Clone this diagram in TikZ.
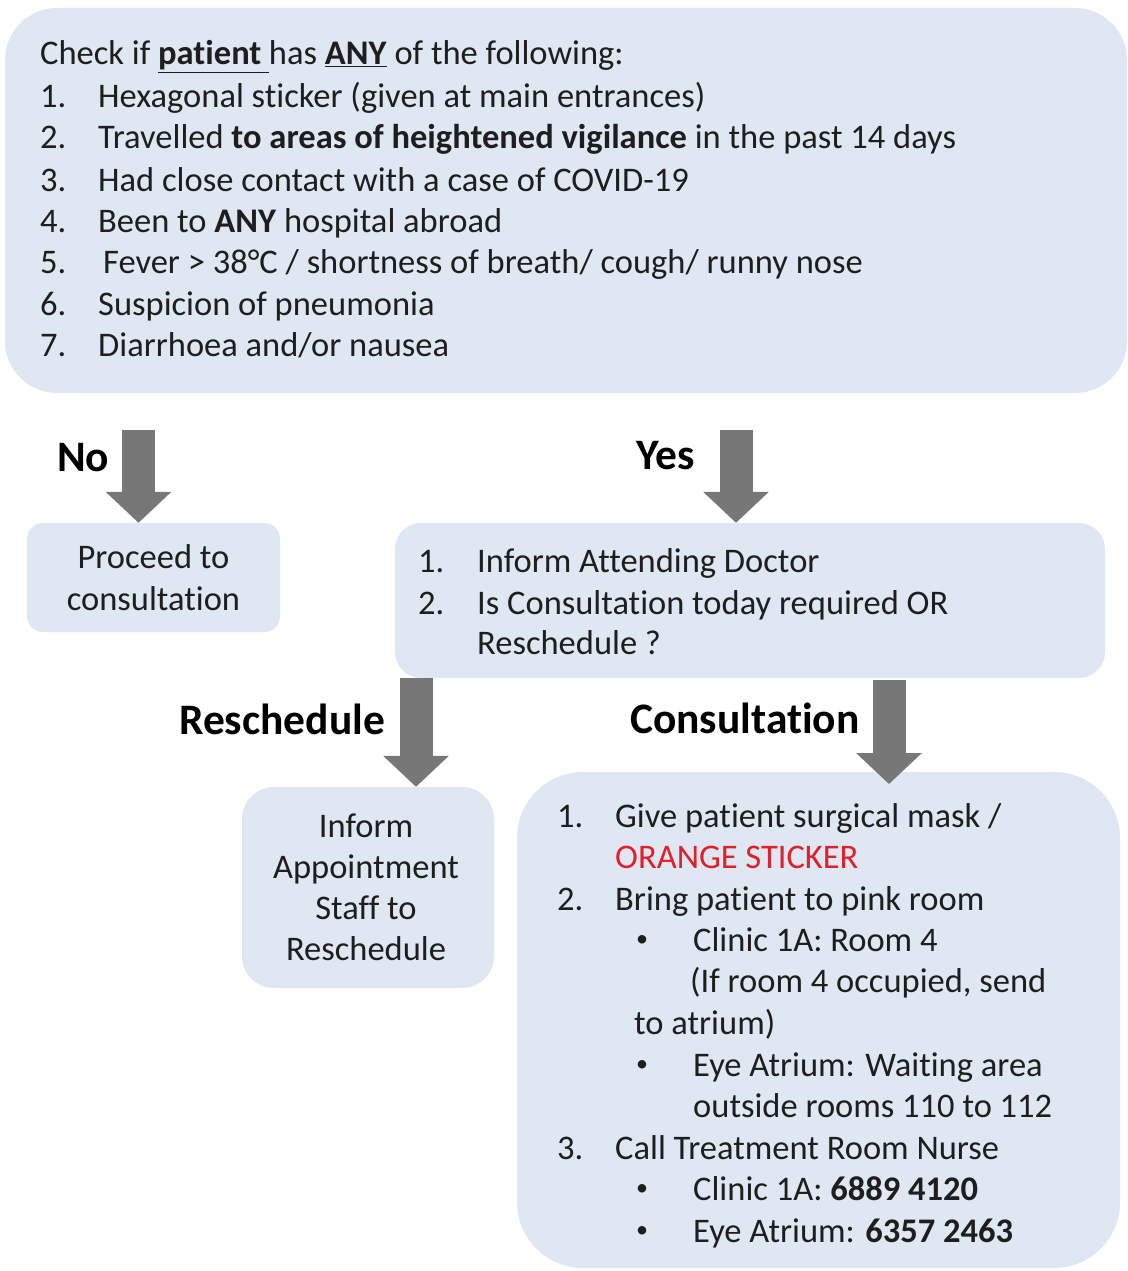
\documentclass[tikz,border=0pt]{standalone}
\usepackage{fontspec}
\setmainfont[Ligatures={NoCommon,NoRare}]{Carlito}
\usetikzlibrary{arrows.meta}
\definecolor{boxfill}{HTML}{DEE7F2}
\definecolor{arrowgray}{HTML}{777777}
\definecolor{ink}{HTML}{1E1E1E}
\definecolor{alertred}{HTML}{E0202A}
\newcommand{\smallbullet}{\raisebox{0.12em}{\fontsize{24}{24}\selectfont •}}
\begin{document}
\begin{tikzpicture}[x=1pt,y=-1pt,
  box/.style={fill=boxfill, draw=none, inner sep=0pt},
  txt/.style={inner sep=0pt, anchor=base west, text=ink, font=\fontsize{34.5}{41}\selectfont},
  ctxt/.style={txt, anchor=base},
  lbl/.style={inner sep=0pt, anchor=base west, text=black, font=\fontsize{43.5}{50}\selectfont\bfseries},
  bigarrow/.style={draw=arrowgray, fill=arrowgray, line width=33pt, -{Triangle[width=64pt,length=31pt]}}]
\useasboundingbox (0,0) rectangle (1127,1271);
\fill[white] (0,0) rectangle (1127,1271);

% boxes
\node[box, rounded corners=52pt, minimum width=1122pt, minimum height=385pt] (top) at (566,200.5) {};
\node[box, rounded corners=16pt, minimum width=253pt, minimum height=109pt] (proceed) at (153.5,577.5) {};
\node[box, rounded corners=26pt, minimum width=710pt, minimum height=155pt] (mid) at (750,600.5) {};
\node[box, rounded corners=32pt, minimum width=252pt, minimum height=201pt] (inform) at (368,887.5) {};
\node[box, rounded corners=66pt, minimum width=603pt, minimum height=496pt] (consult) at (818.5,1020) {};

% top box text
\node[txt] (c0) at (40,65) {Check if \underline{\textbf{patient}\hspace{0.22em}}has \underline{\textbf{ANY}} of the following:};
\node[txt] (n1) at (40,108) {1.};
\node[txt] (t1) at (98,108) {Hexagonal sticker (given at main entrances)};
\node[txt] (n2) at (40,149) {2.};
\node[txt] (t2) at (98,149) {Travelled \textbf{to areas of heightened vigilance} in the past 14 days};
\node[txt] (n3) at (40,191) {3.};
\node[txt] (t3) at (98,191) {Had close contact with a case of COVID-19};
\node[txt] (n4) at (40,232) {4.};
\node[txt] (t4) at (98,232) {Been to \textbf{ANY} hospital abroad};
\node[txt] (n5) at (40,273) {5.};
\node[txt] (t5) at (103,273) {Fever > 38°C / shortness of breath/ cough/ runny nose};
\node[txt] (n6) at (40,315) {6.};
\node[txt] (t6) at (98,315) {Suspicion of pneumonia};
\node[txt] (n7) at (40,356) {7.};
\node[txt] (t7) at (98,356) {Diarrhoea and/or nausea};

% labels
\node[lbl] (lno) at (57,471) {No};
\node[lbl] (lyes) at (636,469) {Yes};
\node[lbl] (lres) at (179,734) {Reschedule};
\node[lbl] (lcon) at (630,733) {Consultation};

% proceed text
\node[ctxt] (p1) at (153.5,568) {Proceed to};
\node[ctxt] (p2) at (153.5,610) {consultation};

% middle box text
\node[txt] (m1n) at (418,572) {1.};
\node[txt] (m1) at (477,572) {Inform Attending Doctor};
\node[txt] (m2n) at (418,614) {2.};
\node[txt] (m2) at (477,614) {Is Consultation today required OR};
\node[txt] (m3) at (477,654) {Reschedule ?};

% inform box text
\node[ctxt] (i1) at (366,837) {Inform};
\node[ctxt] (i2) at (366,878) {Appointment};
\node[ctxt] (i3) at (366,919) {Staff to};
\node[ctxt] (i4) at (366,960) {Reschedule};

% consultation box text
\node[txt] (k1n) at (557,827) {1.};
\node[txt] (k1) at (615,827) {Give patient surgical mask /};
\node[txt, text=alertred] (k1b) at (615,868) {ORANGE STICKER};
\node[txt] (k2n) at (557,910) {2.};
\node[txt] (k2) at (615,910) {Bring patient to pink room};
\node[txt] (b1) at (636,951) {\smallbullet};
\node[txt] (k2a) at (693,951) {Clinic 1A: Room 4};
\node[txt] (k2b) at (690,992) {(If room 4 occupied, send};
\node[txt] (k2c) at (634,1034) {to atrium)};
\node[txt] (b2) at (636,1076) {\smallbullet};
\node[txt] (k2d) at (693,1076) {Eye Atrium: Waiting area};
\node[txt] (k2e) at (693,1117) {outside rooms 110 to 112};
\node[txt] (k3n) at (557,1159) {3.};
\node[txt] (k3) at (615,1159) {Call Treatment Room Nurse};
\node[txt] (b3) at (636,1200) {\smallbullet};
\node[txt] (k3a) at (693,1200) {Clinic 1A: \textbf{6889 4120}};
\node[txt] (b4) at (636,1242) {\smallbullet};
\node[txt] (k3b) at (693,1242) {Eye Atrium: \textbf{6357 2463}};

% arrows
\coordinate (noS) at (138.5,430);
\coordinate (yesS) at (736,430);
\coordinate (resS) at (416,678);
\coordinate (conS) at (889,680);
\coordinate (conE) at (889,784);
\draw[bigarrow] (noS) -- (noS |- proceed.north);
\draw[bigarrow] (yesS) -- (yesS |- mid.north);
\draw[bigarrow] (resS) -- (resS |- inform.north);
\draw[bigarrow] (conS) -- (conE);
\end{tikzpicture}
\end{document}
